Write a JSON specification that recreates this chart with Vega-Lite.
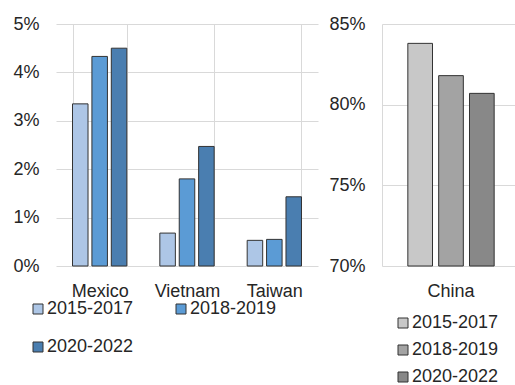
{
  "$schema": "https://vega.github.io/schema/vega-lite/v6.json",
  "autosize": {"type": "pad"},
  "padding": {"left": 12, "top": 15, "right": 0, "bottom": 0},
  "background": "white",
  "datasets": {
    "shares": [
      {"country": "Mexico", "period": "2015-2017", "share": 0.0335},
      {"country": "Mexico", "period": "2018-2019", "share": 0.0433},
      {"country": "Mexico", "period": "2020-2022", "share": 0.0450},
      {"country": "Vietnam", "period": "2015-2017", "share": 0.0068},
      {"country": "Vietnam", "period": "2018-2019", "share": 0.0180},
      {"country": "Vietnam", "period": "2020-2022", "share": 0.0247},
      {"country": "Taiwan", "period": "2015-2017", "share": 0.0053},
      {"country": "Taiwan", "period": "2018-2019", "share": 0.0055},
      {"country": "Taiwan", "period": "2020-2022", "share": 0.0143},
      {"country": "China", "period": "2015-2017", "share": 0.838},
      {"country": "China", "period": "2018-2019", "share": 0.818},
      {"country": "China", "period": "2020-2022", "share": 0.807}
    ]
  },
  "data": {"name": "shares"},
  "config": {
    "font": "Liberation Sans",
    "view": {"stroke": null},
    "axis": {
      "labelFont": "Liberation Sans",
      "labelFontSize": 18,
      "labelColor": "#262626",
      "ticks": false,
      "tickSize": 0,
      "title": null,
      "gridColor": "#d9d9d9",
      "gridWidth": 1,
      "domainColor": "#d9d9d9"
    },
    "legend": {
      "labelFont": "Liberation Sans",
      "labelFontSize": 18,
      "labelColor": "#262626",
      "symbolType": "square",
      "symbolSize": 100,
      "symbolStrokeColor": "#333333",
      "symbolStrokeWidth": 1,
      "labelOffset": 0,
      "padding": 0,
      "title": null
    }
  },
  "bounds": "flush",
  "spacing": 64,
  "hconcat": [
    {
      "width": 262,
      "height": 242,
      "transform": [{"filter": "datum.country !== 'China'"}],
      "mark": {"type": "bar", "stroke": "#333333", "strokeWidth": 1},
      "encoding": {
        "x": {
          "field": "country",
          "type": "nominal",
          "sort": ["Mexico", "Vietnam", "Taiwan"],
          "scale": {"paddingInner": 0.378, "paddingOuter": 0.189},
          "axis": {"labelAngle": 0, "labelPadding": 16, "domain": false, "grid": true, "tickBand": "extent"}
        },
        "xOffset": {
          "field": "period",
          "type": "nominal",
          "scale": {"paddingInner": 0.2, "paddingOuter": 0}
        },
        "y": {
          "field": "share",
          "type": "quantitative",
          "scale": {"domain": [0, 0.05]},
          "axis": {"values": [0, 0.01, 0.02, 0.03, 0.04, 0.05], "format": ".0%", "labelPadding": 17, "domain": false, "grid": true}
        },
        "color": {
          "field": "period",
          "type": "nominal",
          "scale": {"domain": ["2015-2017", "2018-2019", "2020-2022"], "range": ["#adc6e6", "#5b9bd5", "#4a7eb0"]},
          "legend": {"orient": "none", "legendX": -27, "legendY": 276, "direction": "horizontal", "columns": 2, "columnPadding": 38, "rowPadding": 20}
        }
      }
    },
    {
      "width": 134,
      "height": 242,
      "transform": [{"filter": "datum.country === 'China'"}],
      "mark": {"type": "bar", "stroke": "#333333", "strokeWidth": 1},
      "encoding": {
        "x": {
          "field": "country",
          "type": "nominal",
          "scale": {"paddingInner": 0, "paddingOuter": 0.276, "align": 0.542},
          "axis": {"labelAngle": 0, "labelPadding": 16, "domain": false, "grid": false}
        },
        "xOffset": {
          "field": "period",
          "type": "nominal",
          "scale": {"paddingInner": 0.2, "paddingOuter": 0}
        },
        "y": {
          "field": "share",
          "type": "quantitative",
          "scale": {"domain": [0.7, 0.85], "zero": false},
          "axis": {"values": [0.7, 0.75, 0.8, 0.85], "format": ".0%", "labelPadding": 17, "domain": true, "grid": true}
        },
        "y2": {"datum": 0.7},
        "color": {
          "field": "period",
          "type": "nominal",
          "scale": {"domain": ["2015-2017", "2018-2019", "2020-2022"], "range": ["#c8c8c8", "#a3a3a3", "#888888"]},
          "legend": {"orient": "none", "legendX": 12, "legendY": 290, "direction": "vertical", "rowPadding": 9}
        }
      }
    }
  ],
  "resolve": {
    "scale": {"x": "independent", "xOffset": "independent", "y": "independent", "color": "independent"},
    "legend": {"color": "independent"}
  }
}
